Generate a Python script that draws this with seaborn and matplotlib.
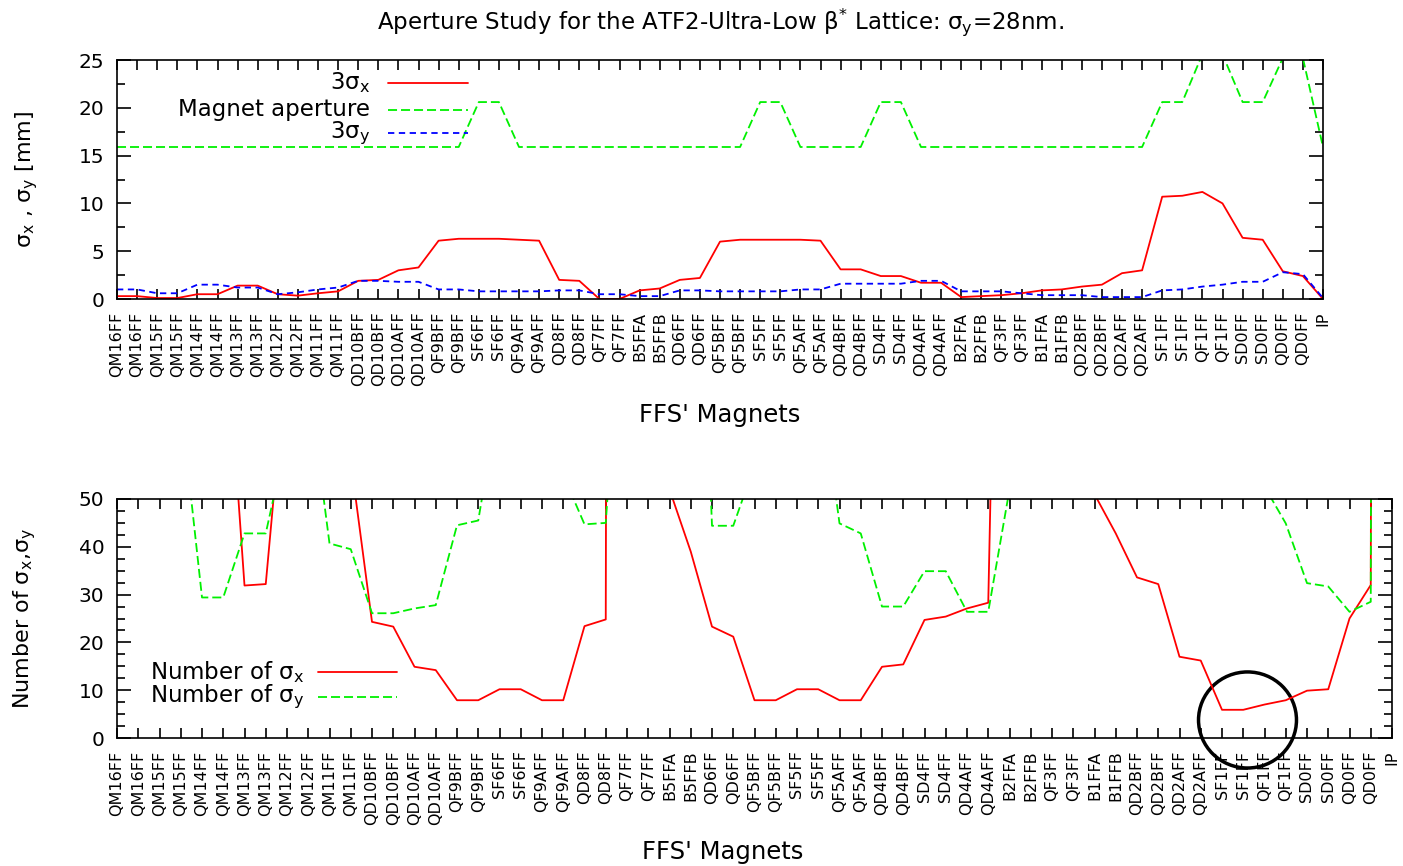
import numpy as np
import pandas as pd
import matplotlib
matplotlib.use("Agg")
import matplotlib.pyplot as plt
import seaborn as sns
from matplotlib.patches import Ellipse
from matplotlib.ticker import MultipleLocator

# ===== DATA =====
magnets = ["QM16FF", "QM16FF", "QM15FF", "QM15FF", "QM14FF", "QM14FF", "QM13FF", "QM13FF",
           "QM12FF", "QM12FF", "QM11FF", "QM11FF", "QD10BFF", "QD10BFF", "QD10AFF", "QD10AFF",
           "QF9BFF", "QF9BFF", "SF6FF", "SF6FF", "QF9AFF", "QF9AFF", "QD8FF", "QD8FF",
           "QF7FF", "QF7FF", "B5FFA", "B5FFB", "QD6FF", "QD6FF", "QF5BFF", "QF5BFF",
           "SF5FF", "SF5FF", "QF5AFF", "QF5AFF", "QD4BFF", "QD4BFF", "SD4FF", "SD4FF",
           "QD4AFF", "QD4AFF", "B2FFA", "B2FFB", "QF3FF", "QF3FF", "B1FFA", "B1FFB",
           "QD2BFF", "QD2BFF", "QD2AFF", "QD2AFF", "SF1FF", "SF1FF", "QF1FF", "QF1FF",
           "SD0FF", "SD0FF", "QD0FF", "QD0FF", "IP"]

# top panel [mm]
sigx3 = [0.3, 0.3, 0.1, 0.1, 0.5, 0.5, 1.4, 1.4, 0.5, 0.35,
         0.6, 0.8, 1.9, 2.0, 3.0, 3.3, 6.1, 6.3, 6.3, 6.3,
         6.2, 6.1, 2.0, 1.9, 0.0, 0.0, 0.9, 1.1, 2.0, 2.2,
         6.0, 6.2, 6.2, 6.2, 6.2, 6.1, 3.1, 3.1, 2.4, 2.4,
         1.7, 1.7, 0.2, 0.3, 0.4, 0.6, 0.9, 1.0, 1.3, 1.5,
         2.7, 3.0, 10.7, 10.8, 11.2, 10.0, 6.4, 6.2, 2.9, 2.4,
         0.0]
aperture = [15.9, 15.9, 15.9, 15.9, 15.9, 15.9, 15.9, 15.9, 15.9, 15.9,
            15.9, 15.9, 15.9, 15.9, 15.9, 15.9, 15.9, 15.9, 20.6, 20.6,
            15.9, 15.9, 15.9, 15.9, 15.9, 15.9, 15.9, 15.9, 15.9, 15.9,
            15.9, 15.9, 20.6, 20.6, 15.9, 15.9, 15.9, 15.9, 20.6, 20.6,
            15.9, 15.9, 15.9, 15.9, 15.9, 15.9, 15.9, 15.9, 15.9, 15.9,
            15.9, 15.9, 20.6, 20.6, 25.6, 25.6, 20.6, 20.6, 25.2, 25.2,
            15.9]
sigy3 = [1.0, 1.0, 0.6, 0.6, 1.5, 1.5, 1.2, 1.2, 0.5, 0.7,
         1.0, 1.2, 1.9, 1.9, 1.8, 1.8, 1.0, 1.0, 0.8, 0.8,
         0.8, 0.8, 0.9, 0.9, 0.5, 0.5, 0.3, 0.3, 0.9, 0.9,
         0.8, 0.8, 0.8, 0.8, 1.0, 1.0, 1.6, 1.6, 1.6, 1.6,
         1.9, 1.9, 0.8, 0.8, 0.8, 0.6, 0.4, 0.4, 0.4, 0.2,
         0.2, 0.2, 0.9, 1.0, 1.3, 1.5, 1.8, 1.8, 2.8, 2.6,
         0.1]

# bottom panel (values above 50 are off the scale)
n_sigx = [159, 159, 300, 300, 95, 95, 31.9, 32.2, 81, 120,
          80, 58, 24.3, 23.3, 14.9, 14.2, 7.9, 7.9, 10.2, 10.2,
          7.9, 7.9, 23.4, 24.8, 2000, 2000, 52, 39, 23.3, 21.2,
          7.9, 7.9, 10.2, 10.2, 7.9, 7.9, 14.9, 15.4, 24.7, 25.4,
          27.1, 28.3, 240, 240, 80, 80, 51, 42.8, 33.6, 32.2,
          17.0, 16.2, 5.9, 5.9, 7.0, 7.9, 9.9, 10.2, 25.0, 32.0,
          2000]
n_sigy = [60, 60, 80, 70, 29.4, 29.4, 42.8, 42.8, 63, 75,
          40.7, 39.5, 26.1, 26.1, 27.1, 27.8, 44.5, 45.5, 72, 72,
          70, 55, 44.7, 45.0, 110, 110, 160, 160, 44.4, 44.4,
          57, 60, 77, 78, 44.9, 42.8, 27.5, 27.5, 34.9, 34.9,
          26.4, 26.4, 52, 60, 60, 70, 70, 70, 70, 70,
          70, 70, 65, 60, 52.6, 44.9, 32.4, 31.7, 26.4, 28.5,
          2000]

df = pd.DataFrame({"pos": np.arange(len(magnets)), "magnet": magnets,
                   "sigx3": sigx3, "aperture": aperture, "sigy3": sigy3,
                   "n_sigx": n_sigx, "n_sigy": n_sigy})

RED, GREEN, BLUE = "#ff0000", "#00f000", "#0000ff"
DASH_G, DASH_B = (0, (5, 2.2)), (0, (3.5, 2.5))

sns.set_style("ticks")
plt.rcParams["font.family"] = ["DejaVu Sans"]
plt.rcParams["mathtext.default"] = "regular"
plt.rcParams["text.color"] = "black"
plt.rcParams["axes.labelcolor"] = "black"
plt.rcParams["xtick.color"] = "black"
plt.rcParams["ytick.color"] = "black"

W, H = 1403, 866
fig = plt.figure(figsize=(W / 100, H / 100), dpi=100)
ax1 = fig.add_axes([117 / W, 1 - 299 / H, 1206 / W, 239 / H])
ax2 = fig.add_axes([117 / W, 1 - 738 / H, 1275 / W, 239 / H])

# ========================
# TOP: beam sizes vs aperture
# ========================
sns.lineplot(data=df, x="pos", y="sigx3", ax=ax1, color=RED, lw=1.3,
             estimator=None, sort=False)
sns.lineplot(data=df, x="pos", y="aperture", ax=ax1, color=GREEN, lw=1.3,
             linestyle=DASH_G, estimator=None, sort=False)
sns.lineplot(data=df, x="pos", y="sigy3", ax=ax1, color=BLUE, lw=1.3,
             linestyle=DASH_B, estimator=None, sort=False)
ax1.set_ylim(0, 25)
ax1.yaxis.set_major_locator(MultipleLocator(5))
ax1.yaxis.set_minor_locator(MultipleLocator(2.5))

# ========================
# BOTTOM: number of sigmas
# ========================
sns.lineplot(data=df, x="pos", y="n_sigx", ax=ax2, color=RED, lw=1.3,
             estimator=None, sort=False)
sns.lineplot(data=df, x="pos", y="n_sigy", ax=ax2, color=GREEN, lw=1.3,
             linestyle=DASH_G, estimator=None, sort=False)
ax2.set_ylim(0, 50)
ax2.yaxis.set_major_locator(MultipleLocator(10))
ax2.yaxis.set_minor_locator(MultipleLocator(2.5))

for ax in (ax1, ax2):
    ax.set_xlim(0, len(magnets) - 1)
    ax.set_xticks(df["pos"])
    ax.set_xticklabels(df["magnet"], rotation=90, fontsize=11.5)
    ax.tick_params(axis="x", which="both", direction="in", top=True, bottom=True,
                   length=7, width=1.2, pad=9)
    ax.tick_params(axis="y", which="major", direction="in", left=True, right=True,
                   length=10, width=1.2, pad=9, labelsize=14.5)
    ax.tick_params(axis="y", which="minor", direction="in", left=True, right=True,
                   length=5.5, width=1.2)
    for s in ax.spines.values():
        s.set_linewidth(1.2)
        s.set_color("black")
    ax.set_xlabel("FFS' Magnets", fontsize=17.5)

ax1.set_ylabel(r"$\sigma_x$ , $\sigma_y$ [mm]", fontsize=16)
ax2.set_ylabel(r"Number of $\sigma_x$,$\sigma_y$", fontsize=16)
ax1.xaxis.set_label_coords(0.5, -0.435)
ax2.xaxis.set_label_coords(0.475, -0.427)
ax1.yaxis.set_label_coords(-0.064, 0.5)
ax2.yaxis.set_label_coords(-0.062, 0.5)

fig.text(720 / W, 1 - 22 / H,
         r"Aperture Study for the ATF2-Ultra-Low $\beta^{*}$ Lattice: $\sigma_y$=28nm.",
         ha="center", va="center", fontsize=16.5)

# gnuplot-style keys: text right-justified, sample to the right
def key(ax, rows, x_text, x0, x1):
    for label, y, color, ls in rows:
        ax.text(x_text, y, label, transform=ax.transAxes, ha="right", va="center",
                fontsize=16.5)
        ax.plot([x0, x1], [y, y], transform=ax.transAxes, color=color, lw=1.3,
                linestyle=ls, clip_on=False)

key(ax1, [(r"3$\sigma_x$", 0.904, RED, "-"),
          ("Magnet aperture", 0.791, GREEN, DASH_G),
          (r"3$\sigma_y$", 0.695, BLUE, DASH_B)],
    0.21, 0.2247, 0.291)
key(ax2, [(r"Number of $\sigma_x$", 0.276, RED, "-"),
          (r"Number of $\sigma_y$", 0.172, GREEN, DASH_G)],
    0.1467, 0.1576, 0.2196)

# highlight circle around the SF1FF / QF1FF minimum
circle = Ellipse((53.2, 3.77), width=4.61, height=20.1, fill=False,
                 edgecolor="black", lw=2.5, clip_on=False)
ax2.add_patch(circle)

fig.savefig("out.png", dpi=100)
